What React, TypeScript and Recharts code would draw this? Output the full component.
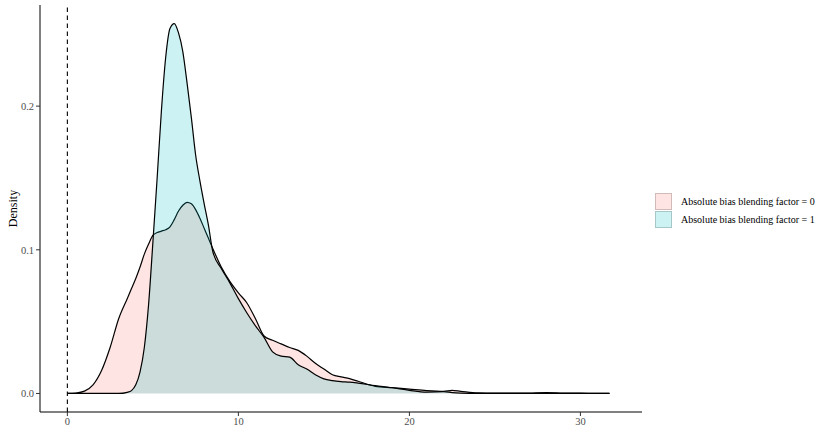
import React from 'react';
import { ComposedChart, Area, XAxis, YAxis, ReferenceLine, Label } from 'recharts';

// density estimates
const biasX = [
  0, 0.5, 1, 1.5, 2, 2.5, 3, 3.5, 3.75, 4, 4.25, 4.5, 4.75, 5, 5.25, 5.5, 5.75, 6, 6.25,
  6.5, 6.75, 7, 7.25, 7.5, 7.75, 8, 8.25, 8.5, 9, 9.5, 10, 10.5, 11, 11.5, 12, 12.5, 13,
  13.5, 14, 14.5, 15, 15.5, 16, 16.5, 17, 18, 19, 20, 21, 22, 22.5, 23, 24, 25, 26, 27,
  28, 29, 30, 31, 31.7,
];
const densityFactor0 = [
  0, 0.0003, 0.0016, 0.006, 0.016, 0.032, 0.052, 0.066, 0.073, 0.08, 0.088, 0.097, 0.104,
  0.11, 0.112, 0.113, 0.114, 0.116, 0.121, 0.127, 0.131, 0.133, 0.132, 0.128, 0.122, 0.115,
  0.108, 0.101, 0.088, 0.078, 0.07, 0.063, 0.052, 0.04, 0.037, 0.0345, 0.032, 0.03, 0.026,
  0.021, 0.017, 0.013, 0.0115, 0.0103, 0.0085, 0.005, 0.004, 0.003, 0.002, 0.0015, 0.0021,
  0.0015, 0.0004, 0.0002, 0.0002, 0.0003, 0.0006, 0.0003, 0.0002, 0.0001, 0,
];
const densityFactor1 = [
  0, 0, 0, 0, 0, 0, 0, 0.0008, 0.002, 0.006, 0.015, 0.032, 0.062, 0.105, 0.15, 0.197, 0.234,
  0.254, 0.2575, 0.251, 0.238, 0.216, 0.192, 0.166, 0.148, 0.132, 0.117, 0.099, 0.087, 0.077,
  0.066, 0.056, 0.047, 0.039, 0.029, 0.026, 0.0253, 0.02, 0.017, 0.013, 0.0102, 0.009, 0.0083,
  0.0079, 0.0072, 0.0055, 0.004, 0.0022, 0.001, 0.0012, 0.0006, 0.0003, 0.0001, 0.0001, 0.0001,
  0.0001, 0.0001, 0.0001, 0.0001, 0, 0,
];
const factorLabels = ['Absolute bias blending factor = 0', 'Absolute bias blending factor = 1'];
const fillColors = ['#F8766D', '#00BFC4'];
const xTicks = [0, 10, 20, 30];
const yTicks = [0, 0.1, 0.2];

const data = biasX.map((x, i) => ({ x, d0: densityFactor0[i], d1: densityFactor1[i] }));

const FONT = '"Liberation Serif", "DejaVu Serif", serif';
const tickStyle = { fill: '#4D4D4D', fontSize: 10.5, fontFamily: FONT };

function DensityLegend() {
  return (
    <div style={{ position: 'absolute', left: 655, top: 192, fontFamily: FONT, fontSize: 10, color: '#000' }}>
      {factorLabels.map((label, i) => (
        <div key={label} style={{ display: 'flex', alignItems: 'center', height: 18 }}>
          <div
            style={{
              width: 17,
              height: 17,
              boxSizing: 'border-box',
              background: fillColors[i] + '33',
              border: '1px solid rgba(0,0,0,0.18)',
              marginRight: 9,
            }}
          />
          <span style={{ whiteSpace: 'nowrap' }}>{label}</span>
        </div>
      ))}
    </div>
  );
}

export default function App() {
  return (
    <div style={{ position: 'absolute', left: 0, top: 0, width: 830, height: 448, background: '#fff' }}>
      <ComposedChart
        width={830}
        height={448}
        data={data}
        margin={{ top: 5, right: 188, bottom: 0, left: 10 }}
      >
        <XAxis
          dataKey="x"
          type="number"
          domain={[-1.6, 33.6]}
          allowDataOverflow
          ticks={xTicks}
          tick={tickStyle}
          tickSize={4}
          tickMargin={2}
          height={36}
          axisLine={{ stroke: '#000', strokeWidth: 1 }}
          tickLine={{ stroke: '#333' }}
        />
        <YAxis
          type="number"
          domain={[-0.0129, 0.2704]}
          allowDataOverflow
          ticks={yTicks}
          tickFormatter={(v: number) => v.toFixed(1)}
          tick={tickStyle}
          tickSize={4}
          tickMargin={2}
          width={30}
          axisLine={{ stroke: '#000', strokeWidth: 1 }}
          tickLine={{ stroke: '#333' }}
        >
          <Label
            value="Density"
            angle={-90}
            position="insideLeft"
            offset={3}
            style={{ fontFamily: FONT, fontSize: 12, fill: '#000', textAnchor: 'middle' }}
          />
        </YAxis>
        <Area
          dataKey="d0"
          type="monotone"
          baseValue={0}
          fill={fillColors[0]}
          fillOpacity={0.2}
          stroke="#000"
          strokeWidth={1.2}
          isAnimationActive={false}
          dot={false}
          activeDot={false}
        />
        <Area
          dataKey="d1"
          type="monotone"
          baseValue={0}
          fill={fillColors[1]}
          fillOpacity={0.2}
          stroke="#000"
          strokeWidth={1.2}
          isAnimationActive={false}
          dot={false}
          activeDot={false}
        />
        <ReferenceLine x={0} stroke="#000" strokeWidth={1.1} strokeDasharray="4.5 3.5" />
      </ComposedChart>
      <DensityLegend />
    </div>
  );
}
